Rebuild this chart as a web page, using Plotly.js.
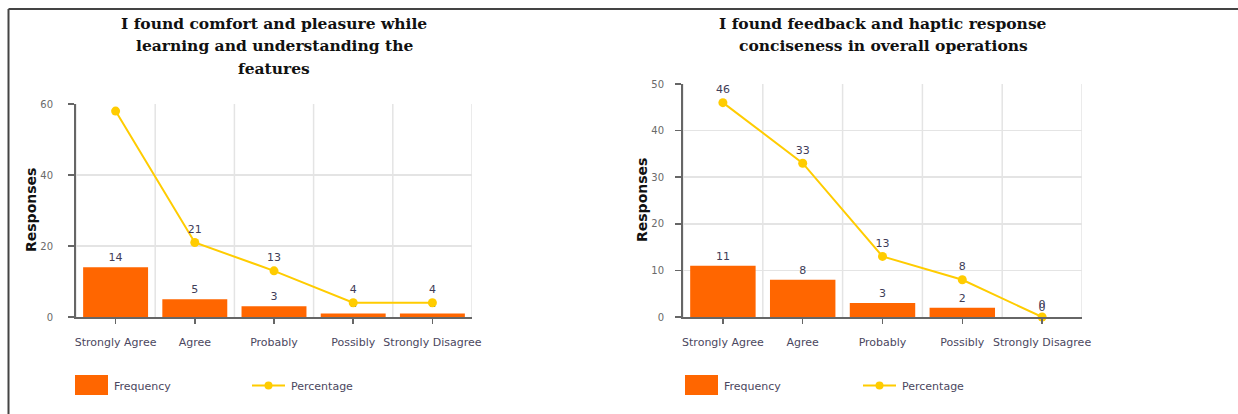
<!DOCTYPE html>
<html>
<head>
<meta charset="utf-8">
<script src="https://cdn.plot.ly/plotly-3.0.1.min.js"></script>
<style>html,body{margin:0;padding:0;background:#fff;}#chart{width:1238px;height:414px;}</style>
</head>
<body>
<div id="chart"></div>
<script>
// ---- data ----
const categories = ['Strongly Agree', 'Agree', 'Probably', 'Possibly', 'Strongly Disagree'];
const frequency1 = [14, 5, 3, 1, 1];
const percentage1 = [58, 21, 13, 4, 4];
const frequency2 = [11, 8, 3, 2, 0];
const percentage2 = [46, 33, 13, 8, 0];
const title1Lines = ['I found comfort and pleasure while', 'learning and understanding the', 'features'];
const title2Lines = ['I found feedback and haptic response', 'conciseness in overall operations'];
const yTitle = 'Responses';
const seriesNames = ['Frequency', 'Percentage'];

// ---- style ----
const W = 1238, H = 414;
const fx = p => p / W;
const fy = p => 1 - p / H;
const BAR = '#FF6600', LINE = '#FFCC00';
const AXC = '#666666', GRID = '#e4e4e4';
const labelFont = {family: 'DejaVu Sans', size: 11, color: '#3f3d58'};

// labels that would sit above the plot frame are hidden (as in the reference)
function labelsFor(vals, max) { return vals.map(v => (v / max > 0.95 ? '' : String(v))); }

function traces(freq, pct, xa, ya, max) {
  return [
    {type: 'bar', x: categories, y: freq, name: seriesNames[0], xaxis: xa, yaxis: ya,
     marker: {color: BAR}, text: freq.map(String), textposition: 'outside',
     textfont: labelFont, cliponaxis: false, showlegend: false, hoverinfo: 'x+y'},
    {type: 'scatter', mode: 'lines+markers+text', x: categories, y: pct, name: seriesNames[1],
     xaxis: xa, yaxis: ya, line: {color: LINE, width: 2}, marker: {color: LINE, size: 9},
     text: labelsFor(pct, max), textposition: 'top center', textfont: labelFont,
     cliponaxis: false, showlegend: false}
  ];
}

const data = [].concat(
  traces(frequency1, percentage1, 'x', 'y', 60),
  traces(frequency2, percentage2, 'x2', 'y2', 50)
);

function xAxis(d, anchor) {
  return {domain: d, anchor: anchor, type: 'category', range: [-0.5, categories.length - 0.5],
    tickangle: 0, ticks: 'outside', ticklen: 5, tickcolor: AXC, tickwidth: 1.5,
    showline: true, linecolor: AXC, linewidth: 2, showgrid: false, zeroline: false,
    tickfont: {family: 'DejaVu Sans', size: 11, color: '#4b4760'}, ticklabelstandoff: 9,
    fixedrange: true};
}
function yAxis(d, anchor, max, dt, standoff) {
  return {domain: d, anchor: anchor, range: [0, max], tick0: 0, dtick: dt,
    ticks: 'outside', ticklen: 6, tickcolor: AXC, tickwidth: 1.5,
    showline: true, linecolor: AXC, linewidth: 2, showgrid: true, gridcolor: GRID, gridwidth: 1.5,
    zeroline: false, tickfont: {family: 'DejaVu Sans', size: 10, color: '#6a6a6a'},
    ticklabelstandoff: standoff, fixedrange: true};
}

const shapes = [];
// vertical gridlines at category boundaries
[['x', 'y domain'], ['x2', 'y2 domain']].forEach(([xr, yr]) => {
  for (let i = 0; i <= categories.length; i++) {
    shapes.push({type: 'line', layer: 'below', xref: xr, yref: yr, x0: i - 0.5, x1: i - 0.5,
      y0: 0, y1: 1, line: {color: GRID, width: 1.5}});
  }
});
// outer frame (left + top)
shapes.push({type: 'line', xref: 'paper', yref: 'paper', x0: fx(8.5), x1: fx(8.5), y0: 0, y1: fy(9),
  line: {color: '#444', width: 2}});
shapes.push({type: 'line', xref: 'paper', yref: 'paper', x0: fx(8.5), x1: 1, y0: fy(9), y1: fy(9),
  line: {color: '#444', width: 2}});

const annotations = [];
const titleFont = {family: 'DejaVu Serif', size: 15.5, color: '#111', weight: 'bold'};
function addTitle(lines, cx) {
  lines.forEach((t, i) => annotations.push({text: t, xref: 'paper', yref: 'paper',
    x: fx(cx), y: fy(23 + i * 22.5), xanchor: 'center', yanchor: 'middle', showarrow: false,
    font: titleFont}));
}
addTitle(title1Lines, 274);
addTitle(title2Lines, 883);
[[31, 210], [642, 200]].forEach(([x, y]) => annotations.push({text: yTitle, xref: 'paper', yref: 'paper',
  x: fx(x), y: fy(y), textangle: -90, xanchor: 'center', yanchor: 'middle', showarrow: false,
  font: {family: 'DejaVu Sans', size: 14, color: '#111', weight: 'bold'}}));

// custom legends
function legend(barX0, lineX0) {
  shapes.push({type: 'rect', xref: 'paper', yref: 'paper', x0: fx(barX0), x1: fx(barX0 + 33),
    y0: fy(395), y1: fy(375), fillcolor: BAR, line: {width: 0}});
  shapes.push({type: 'line', xref: 'paper', yref: 'paper', x0: fx(lineX0), x1: fx(lineX0 + 33),
    y0: fy(385.5), y1: fy(385.5), line: {color: LINE, width: 2}});
  shapes.push({type: 'circle', xref: 'paper', yref: 'paper', x0: fx(lineX0 + 12.5), x1: fx(lineX0 + 20.5),
    y0: fy(389.5), y1: fy(381.5), fillcolor: LINE, line: {width: 0}});
  annotations.push({text: seriesNames[0], xref: 'paper', yref: 'paper', x: fx(barX0 + 37), y: fy(386),
    xanchor: 'left', yanchor: 'middle', showarrow: false,
    font: {family: 'DejaVu Sans', size: 11, color: '#4b4760'}});
  annotations.push({text: seriesNames[1], xref: 'paper', yref: 'paper', x: fx(lineX0 + 37), y: fy(386),
    xanchor: 'left', yanchor: 'middle', showarrow: false,
    font: {family: 'DejaVu Sans', size: 11, color: '#4b4760'}});
}
legend(75, 252);
legend(685, 863);

const layout = {
  width: W, height: H, margin: {l: 0, r: 0, t: 0, b: 0},
  paper_bgcolor: '#fff', plot_bgcolor: '#fff', showlegend: false,
  bargap: 0.18,
  xaxis: xAxis([fx(76), fx(472)], 'y'),
  yaxis: yAxis([fy(317), fy(104)], 'x', 60, 20, 13),
  xaxis2: xAxis([fx(683), fx(1082)], 'y2'),
  yaxis2: yAxis([fy(317), fy(84)], 'x2', 50, 10, 9),
  shapes: shapes, annotations: annotations
};

Plotly.newPlot('chart', data, layout, {displayModeBar: false, staticPlot: true});
</script>
</body>
</html>
